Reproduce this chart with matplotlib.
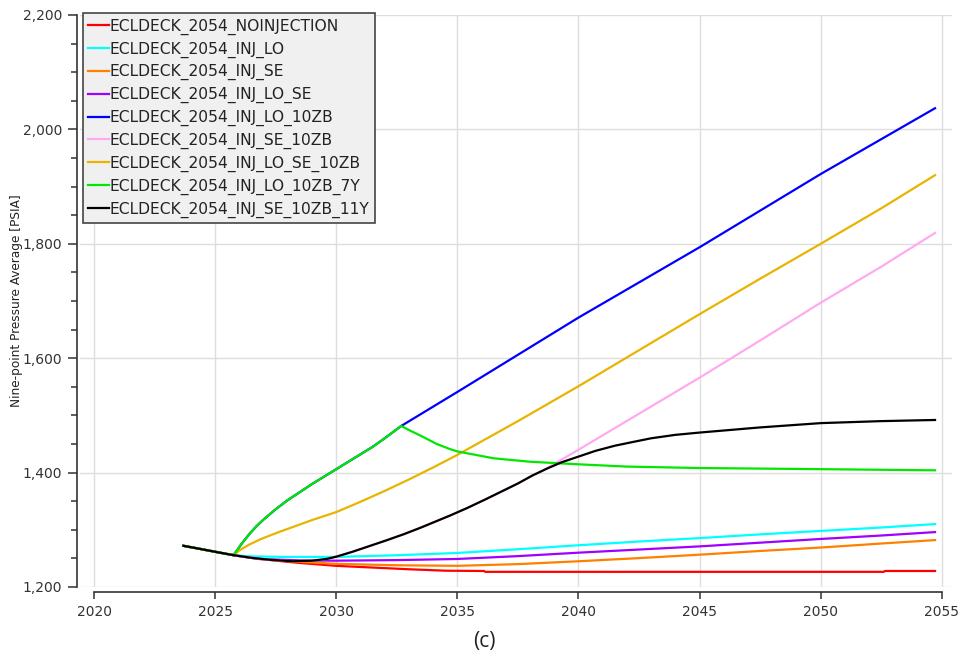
import matplotlib.pyplot as plt
from matplotlib.ticker import MultipleLocator, StrMethodFormatter

# Historia comun a todos los casos (antes de la inyeccion)
anios_hist = [2023.69, 2024.2, 2024.7, 2025.2, 2025.76]
pres_hist = [1272, 1268, 1264, 1260, 1255.6]

# Sin inyeccion
anios_noinj = [2026.5, 2027.5, 2028.5, 2030, 2031.5, 2033, 2034.5, 2036.1, 2036.15, 2045, 2052.6, 2052.65, 2054.72]
pres_noinj = [1251, 1246, 1242, 1237, 1234, 1231, 1228.5, 1228, 1226.5, 1226.5, 1226.5, 1228, 1228]

anios_lo = [2026.5, 2028, 2030, 2032.5, 2035, 2037.5, 2040, 2042.5, 2045, 2047.5, 2050, 2052.5, 2054.72]
pres_lo = [1253.5, 1252.5, 1252.6, 1255.5, 1259.5, 1266, 1273, 1279.5, 1285.5, 1292, 1298, 1304, 1310]

anios_se = [2026.8, 2028.5, 2030, 2032.5, 2035, 2037.5, 2040, 2042.5, 2045, 2047.5, 2050, 2052.5, 2054.72]
pres_se = [1249, 1244, 1240.5, 1238, 1237, 1240, 1245, 1250.5, 1256.5, 1263, 1269, 1276, 1282]

anios_lo_se = [2026.8, 2028.5, 2030, 2032.5, 2035, 2037.5, 2040, 2042.5, 2045, 2047.5, 2050, 2052.5, 2054.72]
pres_lo_se = [1249, 1246.5, 1246, 1247, 1249, 1254, 1260, 1265.5, 1271, 1277.5, 1284, 1290, 1296]

# Tramo comun LO_10ZB / LO_10ZB_7Y (hasta el corte a los 7 anios)
anios_lo10_comun = [2025.9, 2026.1, 2026.4, 2026.7, 2027, 2027.5, 2028, 2028.5, 2029, 2029.5, 2030,
                    2030.5, 2031, 2031.5, 2032, 2032.68]
pres_lo10_comun = [1264, 1276, 1292, 1306, 1318, 1336, 1352, 1366, 1380, 1393, 1406,
                   1419, 1432, 1445, 1460, 1481.5]

anios_lo10 = [2035, 2040, 2045, 2050, 2054.72]
pres_lo10 = [1541, 1671, 1794, 1922, 2037]

anios_lo10_7y = [2033.04, 2033.46, 2034.15, 2034.7, 2035, 2036.5, 2038, 2040, 2042, 2045, 2050, 2054.72]
pres_lo10_7y = [1473.6, 1465, 1450, 1441, 1437, 1425, 1419, 1414.5, 1410.5, 1408, 1406, 1404]

# Tramo comun SE_10ZB / SE_10ZB_11Y
anios_se10_comun = [2026.5, 2027.3, 2028.2, 2029, 2029.6, 2030, 2030.7, 2031.4, 2032.1, 2032.8, 2033.5, 2034.1,
                    2034.7, 2035.4, 2036.1, 2036.8, 2037.5, 2038.1]
pres_se10_comun = [1251, 1247.5, 1245, 1246, 1249, 1253, 1262, 1272, 1282, 1292.5, 1304, 1314.5,
                   1325, 1338, 1352, 1366.5, 1381, 1395]

anios_se10 = [2038.5, 2040, 2042.5, 2045, 2047.5, 2050, 2052.5, 2054.72]
pres_se10 = [1403, 1440, 1503, 1566, 1631, 1697, 1760, 1819]

anios_se10_11y = [2038.7, 2039.3, 2040, 2040.7, 2041.5, 2042.3, 2043, 2044, 2045, 2047.5, 2050, 2052.5, 2054.72]
pres_se10_11y = [1407, 1418, 1428, 1438, 1447, 1454, 1460, 1466, 1470, 1479, 1486.5, 1490, 1492]

anios_lo_se10 = [2026, 2026.4, 2026.9, 2027.5, 2028.28, 2029, 2030, 2031, 2032, 2033, 2034, 2035, 2037.5, 2040,
                 2042.5, 2045, 2047.5, 2050, 2052.5, 2054.72]
pres_lo_se10 = [1264, 1274, 1284, 1294, 1306, 1317, 1331, 1349, 1368, 1388, 1409, 1431, 1490, 1551,
                1614, 1677, 1739, 1800, 1862, 1920]

series = [
    ("ECLDECK_2054_NOINJECTION", "#ff0000", anios_noinj, pres_noinj),
    ("ECLDECK_2054_INJ_LO", "#00ffff", anios_lo, pres_lo),
    ("ECLDECK_2054_INJ_SE", "#ff8000", anios_se, pres_se),
    ("ECLDECK_2054_INJ_LO_SE", "#a000ff", anios_lo_se, pres_lo_se),
    ("ECLDECK_2054_INJ_LO_10ZB", "#0000ff", anios_lo10_comun + anios_lo10, pres_lo10_comun + pres_lo10),
    ("ECLDECK_2054_INJ_SE_10ZB", "#ffaaf0", anios_se10_comun + anios_se10, pres_se10_comun + pres_se10),
    ("ECLDECK_2054_INJ_LO_SE_10ZB", "#e8b400", anios_lo_se10, pres_lo_se10),
    ("ECLDECK_2054_INJ_LO_10ZB_7Y", "#00e800", anios_lo10_comun + anios_lo10_7y, pres_lo10_comun + pres_lo10_7y),
    ("ECLDECK_2054_INJ_SE_10ZB_11Y", "#000000", anios_se10_comun + anios_se10_11y, pres_se10_comun + pres_se10_11y),
]

ANCHO, ALTO = 962, 659
fig = plt.figure(figsize=(ANCHO / 100, ALTO / 100), dpi=100)
ax = fig.add_axes([80 / ANCHO, 1 - 587 / ALTO, 872 / ANCHO, 572 / ALTO])

for nombre, color, anios, pres in series:
    ax.plot(anios_hist + anios, pres_hist + pres, color=color, lw=1.6, label=nombre)

ax.set_xlim(2019.42, 2055.42)
ax.set_ylim(1200, 2200)
ax.set_xticks(range(2020, 2056, 5))
ax.set_yticks(range(1200, 2201, 200))
ax.yaxis.set_minor_locator(MultipleLocator(50))
ax.yaxis.set_major_formatter(StrMethodFormatter("{x:,.0f}"))

ax.grid(color="#dedede", lw=1)
ax.set_axisbelow(True)
ax.yaxis.get_major_ticks()[-1].gridline.set_visible(False)

for lado in ["top", "right"]:
    ax.spines[lado].set_visible(False)
ax.spines["left"].set_position(("outward", 2.2))
ax.spines["left"].set_bounds(1200, 2200)
ax.spines["bottom"].set_position(("outward", 3.8))
ax.spines["bottom"].set_bounds(2020, 2055)
for lado in ["left", "bottom"]:
    ax.spines[lado].set_color("#333333")
    ax.spines[lado].set_linewidth(1.2)

ax.tick_params(axis="y", which="major", length=6.5, width=1.1, color="#333333", labelsize=10,
               labelcolor="#333333", pad=4)
ax.tick_params(axis="y", which="minor", length=4.5, width=1.1, color="#333333")
ax.tick_params(axis="x", length=5, width=1.1, color="#333333", labelsize=10, labelcolor="#333333", pad=4)

fig.text(17 / ANCHO, 1 - 301 / ALTO, "Nine-point Pressure Average [PSIA]", rotation=90,
         ha="center", va="center", fontsize=8.7, color="#222222")

leg = ax.legend(loc="upper left", bbox_to_anchor=(83 / ANCHO, 1 - 13 / ALTO), bbox_transform=fig.transFigure,
                borderaxespad=0, fontsize=11.2, handlelength=1.3, handletextpad=0.05, labelspacing=0.43,
                borderpad=0.35, fancybox=False, framealpha=1)
leg.get_frame().set_facecolor("#f0f0f0")
leg.get_frame().set_edgecolor("#444444")
leg.get_frame().set_linewidth(1.2)
for t in leg.get_texts():
    t.set_color("#222222")

fig.text(484 / ANCHO, 1 - 641 / ALTO, "(c)", ha="center", va="center", fontsize=15,
         family="Open Sans", color="#222222")

fig.savefig("out.png", dpi=100)
